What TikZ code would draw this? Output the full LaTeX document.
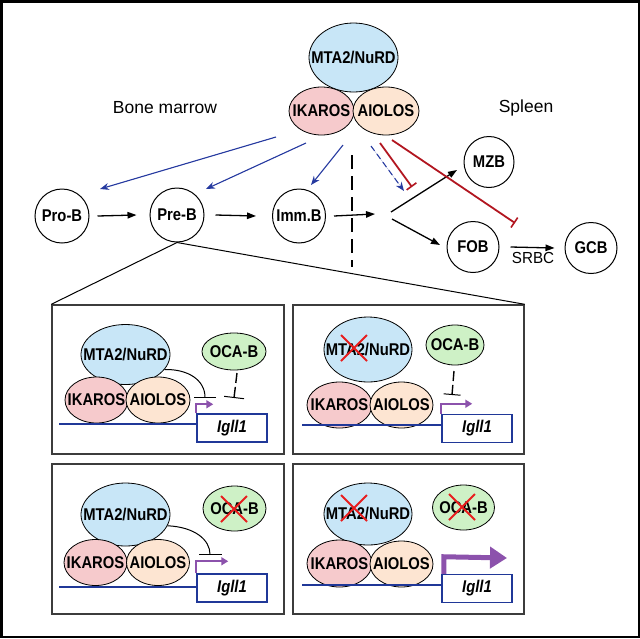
\documentclass[tikz,border=0pt]{standalone}
\usepackage{fontspec}
\usepackage{graphicx}
\setmainfont{Liberation Sans}
\usetikzlibrary{arrows.meta,shapes.geometric}
\definecolor{mtablue}{RGB}{200,230,247}
\definecolor{ikpink}{RGB}{246,202,204}
\definecolor{aiopeach}{RGB}{253,229,210}
\definecolor{ocagreen}{RGB}{206,241,198}
\definecolor{arrblue}{RGB}{38,58,160}
\definecolor{inhred}{RGB}{178,22,32}
\definecolor{xred}{RGB}{232,30,30}
\definecolor{genepurple}{RGB}{140,82,172}
\definecolor{boxblue}{RGB}{32,56,152}
\definecolor{framegray}{RGB}{60,60,60}
\newcommand{\ztext}[1]{\makebox[0pt]{\scalebox{0.87}[1]{#1}}}
\begin{document}
\begin{tikzpicture}[x=1pt,y=-1pt,
  ov/.style 2 args={ellipse, minimum width=#1, minimum height=#2, inner sep=0pt,
     draw=black, line width=0.8pt, font=\fontsize{17}{17}\selectfont\bfseries},
  panel/.style={rectangle, draw=framegray, line width=1.4pt, inner sep=0pt},
  genebox/.style={rectangle, draw=boxblue, line width=1.5pt, fill=white, inner sep=0pt,
     minimum width=70pt, minimum height=28pt, font=\fontsize{17}{17}\selectfont\bfseries\itshape},
  arr/.style={-{Triangle[length=9pt,width=6.5pt]}, line width=1.3pt},
  barr/.style={-{Stealth[length=9pt,width=7pt]}, line width=1.1pt, draw=arrblue, fill=arrblue},
  rinh/.style={-{Bar[width=12pt,line width=1.6pt]}, line width=1.8pt, draw=inhred},
  kinh/.style={line width=1pt},
  dna/.style={draw=boxblue, line width=1.5pt},
  parr/.style={draw=genepurple, line width=2pt, -{Triangle[length=7pt,width=8pt]}},
  redx/.pic={\draw[xred, line width=2pt] (-13,-13) -- (13,13) (-13,13) -- (13,-13);},
  lbl/.style={font=\fontsize{17.5}{18}\selectfont}
]
\useasboundingbox (0,0) rectangle (640,638);
\draw[line width=2.5pt] (1.25,1.25) rectangle (638.75,636.75);

% top cluster
\node[ov={89}{69}, fill=mtablue] (mta) at (353.5,57.5) {\ztext{MTA2/NuRD}};
\node[ov={65}{48}, fill=ikpink] (ika) at (321.5,111) {\ztext{IKAROS}};
\node[ov={66}{48}, fill=aiopeach] (aio) at (386,111) {\ztext{AIOLOS}};

\node[lbl] (bm) at (165,108) {Bone marrow};
\node[lbl] (spl) at (526,108) {Spleen};

% cells
\node[ov={54}{54}, line width=1pt] (proB) at (62,216) {\ztext{Pro-B}};
\node[ov={54}{54}, line width=1pt] (preB) at (177,215) {\ztext{Pre-B}};
\node[ov={53}{54}, line width=1pt] (immB) at (299,216) {\ztext{Imm.B}};
\node[ov={50}{51}, line width=1pt] (mzb) at (489,162) {\ztext{MZB}};
\node[ov={52}{51}, line width=1pt] (fob) at (473,247) {\ztext{FOB}};
\node[ov={52}{51}, line width=1pt] (gcb) at (591,248) {\ztext{GCB}};
\node[font=\fontsize{16}{16}\selectfont] (srbc) at (533,258) {\scalebox{0.95}[1]{SRBC}};

% dashed boundary
\coordinate (dv1) at (352,155);
\coordinate (dv2) at (352,267);
\draw[line width=1.1pt, dash pattern=on 14pt off 7pt] (dv1) -- (dv2);

% black progression arrows
\coordinate (jn) at (375,214);
\coordinate (br1) at (391,212);
\coordinate (br2) at (392,219);
\coordinate (mzbIn) at (457,170);
\coordinate (fobIn) at (440,245);
\draw[arr] ([xshift=8pt]proB.east) -- ([xshift=-13pt]preB.west);
\draw[arr] ([xshift=11pt]preB.east) -- ([xshift=-16pt]immB.west);
\draw[arr] ([xshift=8pt]immB.east) -- (jn);
\draw[arr] (br1) -- (mzbIn);
\draw[arr] (br2) -- (fobIn);
\draw[arr] ([xshift=11pt]fob.east) -- ([xshift=-10pt]gcb.west);

% blue arrows
\coordinate (s1) at (276,137); \coordinate (e1) at (100,189);
\coordinate (s2) at (306,143); \coordinate (e2) at (206,189);
\coordinate (s3) at (343,145); \coordinate (e3) at (311,185);
\coordinate (s4) at (371,146); \coordinate (e4) at (404,191);
\draw[barr] (s1) -- (e1);
\draw[barr] (s2) -- (e2);
\draw[barr] (s3) -- (e3);
\draw[barr, dash pattern=on 6pt off 4pt] (s4) -- (e4);

% red inhibition
\coordinate (s5) at (380,143); \coordinate (e5) at (412,187);
\coordinate (s6) at (392,140); \coordinate (e6) at (515,223);
\draw[rinh] (s5) -- (e5);
\draw[rinh] (s6) -- (e6);

% panels
\node[panel, minimum width=232pt, minimum height=149pt] (pTL) at (168,379.5) {};
\node[panel, minimum width=231pt, minimum height=149pt] (pTR) at (408.5,379.5) {};
\node[panel, minimum width=232pt, minimum height=150pt] (pBL) at (168,539) {};
\node[panel, minimum width=231pt, minimum height=150pt] (pBR) at (408.5,539) {};
\draw[line width=1pt] (pTL.north west) -- (preB.south) -- (pTR.north east);

% ---- panel TL
\node[ov={89}{60}, fill=mtablue] (tlmta) at (125.5,354.5) {\ztext{MTA2/NuRD}};
\node[ov={63}{46}, fill=ikpink] (tlika) at (96.5,400) {\ztext{IKAROS}};
\node[ov={64}{46}, fill=aiopeach] (tlaio) at (158,400) {\ztext{AIOLOS}};
\node[ov={64}{37}, fill=ocagreen] (tloca) at (234,351.5) {\ztext{OCA-B}};
\node[genebox] (tlbox) at (232,428) {\scalebox{0.87}[1]{Igll1}};
\coordinate (tlD) at (59,424);
\draw[dna] (tlD) -- (tlD -| tlbox.west);
\draw[parr] (tlbox.north west) -- ++(0,-9) -- ++(17,0);
\coordinate (tlB) at (205,398);
\draw[kinh, -{Bar[width=22pt,line width=1pt]}] (tlmta.-21) .. controls (188,369) and (205,380) .. (tlB);
\coordinate (tlO1) at (237,373);
\coordinate (tlO2) at (234,398);
\draw[line width=1.4pt, dash pattern=on 10pt off 4pt, -{Bar[width=20pt,line width=1pt]}] (tlO1) -- (tlO2);

% ---- panel TR
\node[ov={88}{65}, fill=mtablue] (trmta) at (368,349.5) {\ztext{MTA2/NuRD}};
\node[ov={65}{46}, fill=ikpink] (trika) at (339.5,405) {\ztext{IKAROS}};
\node[ov={63}{46}, fill=aiopeach] (traio) at (401.5,405) {\ztext{AIOLOS}};
\node[ov={58}{40}, fill=ocagreen] (troca) at (455,345) {\ztext{OCA-B}};
\node[genebox] (trbox) at (477,428.5) {\scalebox{0.87}[1]{Igll1}};
\coordinate (trD) at (302,425);
\draw[dna] (trD) -- (trD -| trbox.west);
\draw[parr] (trbox.north west) -- ++(0,-10) -- ++(31,0);
\pic at (354,348) {redx};
\coordinate (trO1) at (454,371);
\coordinate (trO2) at (452,395);
\draw[line width=1.4pt, dash pattern=on 10pt off 4pt, -{Bar[width=17pt,line width=1pt]}] (trO1) -- (trO2);

% ---- panel BL
\node[ov={89}{63}, fill=mtablue] (blmta) at (125.5,514.5) {\ztext{MTA2/NuRD}};
\node[ov={63}{46}, fill=ikpink] (blika) at (95.5,562.5) {\ztext{IKAROS}};
\node[ov={63}{46}, fill=aiopeach] (blaio) at (158,562.5) {\ztext{AIOLOS}};
\node[ov={63}{45}, fill=ocagreen] (bloca) at (234.5,508.5) {\ztext{OCA-B}};
\node[genebox] (blbox) at (232,588) {\scalebox{0.87}[1]{Igll1}};
\coordinate (blD) at (59,587);
\draw[dna] (blD) -- (blD -| blbox.west);
\draw[parr] (blbox.north west) -- ++(0,-12) -- ++(32,0);
\coordinate (blB) at (210,555);
\draw[kinh, -{Bar[width=23pt,line width=1pt]}] (blmta.-15) .. controls (195,527) and (210,540) .. (blB);
\pic at (234,509) {redx};

% ---- panel BR
\node[ov={88}{62}, fill=mtablue] (brmta) at (368,514) {\ztext{MTA2/NuRD}};
\node[ov={65}{47}, fill=ikpink] (brika) at (339.5,563.5) {\ztext{IKAROS}};
\node[ov={63}{46}, fill=aiopeach] (braio) at (401.5,564) {\ztext{AIOLOS}};
\node[ov={62}{45}, fill=ocagreen] (broca) at (463.5,507.5) {\ztext{OCA-B}};
\node[genebox] (brbox) at (477,588.5) {\scalebox{0.87}[1]{Igll1}};
\coordinate (brD) at (302,585);
\draw[dna] (brD) -- (brD -| brbox.west);
\draw[draw=genepurple, line width=5pt, -{Triangle[length=17pt,width=21pt]}]
  ([xshift=2.5pt]brbox.north west) -- ++(0,-17) -- (507,558);
\pic at (354,508) {redx};
\pic at (462,507) {redx};
\end{tikzpicture}
\end{document}
